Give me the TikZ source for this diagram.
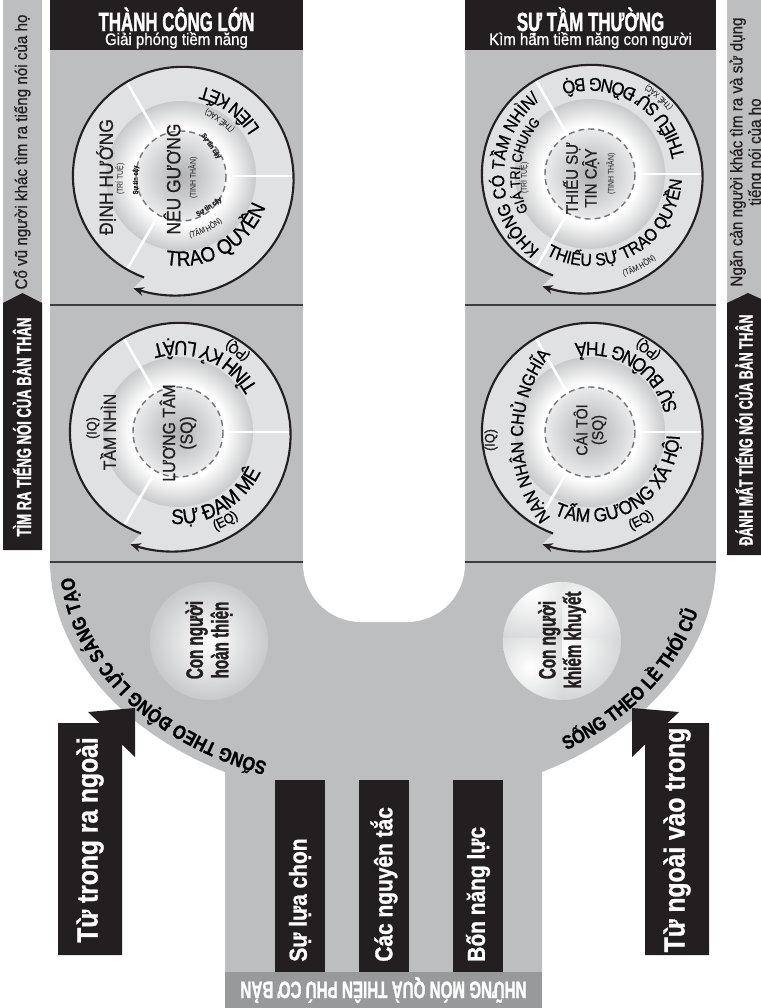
\documentclass[tikz,border=0pt]{standalone}
\usepackage{fontspec}
\setmainfont{Liberation Sans}
\newfontfamily\heavyfont[FakeStretch=0.64,FakeBold=1.2]{Liberation Sans}
\newfontfamily\narrowfont[FakeStretch=0.82]{Liberation Sans}
\newfontfamily\midfont[FakeStretch=0.9,FakeBold=0.7]{Liberation Sans}
\newfontfamily\boldnarrow[FakeStretch=0.85,FakeBold=1]{Liberation Sans}
\usetikzlibrary{arrows.meta,decorations.text,calc}
\definecolor{panelgray}{RGB}{189,190,192}
\definecolor{bandgray}{RGB}{152,153,155}
\definecolor{inkblack}{RGB}{35,31,32}
\definecolor{ringgray}{RGB}{224,225,227}
\definecolor{discgray}{RGB}{200,201,203}
\definecolor{coregray}{RGB}{176,177,179}
\definecolor{corelight}{RGB}{234,235,237}
\definecolor{rulegray}{RGB}{62,62,64}
\definecolor{dashgray}{RGB}{118,118,120}
\pgfdeclareradialshading{discshade}{\pgfpoint{0bp}{0bp}}{color(0bp)=(white); color(16bp)=(white); color(25bp)=(discgray); color(50bp)=(discgray)}
\pgfdeclareradialshading{coreshade}{\pgfpoint{0bp}{0bp}}{color(0bp)=(coregray); color(25bp)=(corelight); color(50bp)=(corelight)}
\newcommand{\ringsize}[1]{\midfont\fontsize{#1}{#1}\selectfont}
\newcommand{\smallringfont}{\midfont\fontsize{8}{8}\selectfont}
\newcommand{\tinyfont}{\narrowfont\fontsize{4.8}{5}\selectfont}
\newcommand{\wayfont}{\boldnarrow\bfseries\fontsize{11}{11}\selectfont}
% text along a circle: centre, radius, middle angle, direction (+1 tops out, -1 tops in), font, text
\newcommand{\arclabel}[6]{%
  \path[decorate,decoration={text along path,text align=center,text={|#5|#6}}]
    (#1) ++({#3-80*(#4)}:#2) arc[start angle={#3-80*(#4)},end angle={#3+80*(#4)},radius=#2];}
\tikzset{
  htitle/.style={text=white, font=\heavyfont\bfseries\fontsize{15}{15}\selectfont, anchor=base, inner sep=0pt},
  hsub/.style={text=white, font=\midfont\fontsize{9.5}{9.5}\selectfont, anchor=base, inner sep=0pt},
  barlbl/.style={text=white, font=\heavyfont\bfseries\fontsize{11.6}{11.6}\selectfont, rotate=90, inner sep=0pt},
  sidelbl/.style={text=inkblack, font=\midfont\fontsize{9.6}{10.5}\selectfont, rotate=90, inner sep=0pt, align=center},
  giftlbl/.style={text=white, font=\boldnarrow\bfseries\fontsize{14}{14}\selectfont, rotate=90, anchor=west, inner sep=0pt},
  bandlbl/.style={text=white, font=\heavyfont\bfseries\fontsize{13.5}{13.5}\selectfont, rotate=180, inner sep=0pt},
  waylbl/.style={text=white, font=\boldnarrow\bfseries\fontsize{16.5}{16.5}\selectfont, rotate=90, inner sep=0pt},
  personlbl/.style={text=inkblack, font=\heavyfont\bfseries\fontsize{13.5}{14.5}\selectfont, rotate=90, align=center, inner sep=0pt},
  corelbl/.style={text=inkblack, font=\ringsize{10}, rotate=90, align=center, inner sep=0pt},
  ringlbl/.style={text=inkblack, font=\ringsize{10}, rotate=90, align=center, inner sep=0pt},
  tinylbl/.style={text=inkblack, font=\tinyfont, inner sep=0pt},
  trustlbl/.style={text=inkblack, font=\boldnarrow\bfseries\fontsize{4}{4}\selectfont, inner sep=0pt},
  splitline/.style={white, line width=1.5pt},
  dashring/.style={dashgray, line width=0.8pt, dash pattern=on 3.4pt off 2.3pt},
  spiral/.style={inkblack, line width=1.2pt, -{Stealth[length=6pt,width=5pt]}},
  divider/.style={rulegray, line width=1.3pt},
}
\begin{document}
\begin{tikzpicture}[x=0.02cm,y=-0.02cm]
  \useasboundingbox (0,0) rectangle (761,1008);
  \clip (0,0) rectangle (761,1008);
  % side bars
  \fill[panelgray] (3,0) rectangle (42,303);
  \fill[inkblack] (3,550) -- (3,303) -- (22.5,293) -- (42,303) -- (42,550) -- cycle;
  \fill[panelgray] (727,0) rectangle (770,303);
  \fill[inkblack] (727,555) -- (727,303) -- (748,293) -- (770,303) -- (770,555) -- cycle;
  \node[sidelbl] (cheer) at (22,152) {Cổ vũ người khác tìm ra tiếng nói của họ};
  \node[barlbl] (findvoice) at (22,427) {TÌM RA TIẾNG NÓI CỦA BẢN THÂN};
  \node[sidelbl] (block) at (747,152) {Ngăn cản người khác tìm ra và sử dụng\\tiếng nói của họ};
  \node[barlbl, font=\heavyfont\bfseries\fontsize{11}{11}\selectfont] (losevoice) at (744,430) {ĐÁNH MẤT TIẾNG NÓI CỦA BẢN THÂN};
  % U shape
  \fill[panelgray] (50,50) -- (50,560) arc[start angle=180,end angle=118.3,x radius=333,y radius=241]
    -- (225,1008) -- (542,1008) -- (542,772) arc[start angle=61.5,end angle=0,x radius=333,y radius=241]
    -- (716,50) -- cycle;
  \fill[white, rounded corners=1.16cm] (303,-100) -- (303,622) -- (465,622) -- (465,-100) -- cycle;
  \fill[bandgray] (225,972) rectangle (542,1008);
  \node[bandlbl] (gifts) at (383.5,990) {NHỮNG MÓN QUÀ THIÊN PHÚ CƠ BẢN};
  % headers
  \fill[inkblack] (50,0) rectangle (303,50);
  \fill[inkblack] (465,0) rectangle (716,50);
  \node[htitle] (goodtitle) at (176.5,31) {THÀNH CÔNG LỚN};
  \node[hsub] (goodsub) at (176.5,45) {Giải phóng tiềm năng};
  \node[htitle] (poortitle) at (590.5,31) {SỰ TẦM THƯỜNG};
  \node[hsub] (poorsub) at (590.5,45) {Kìm hãm tiềm năng con người};
  \draw[divider] (50,305) -- (303,305);
  \draw[divider] (465,305) -- (716,305);
  \draw[divider] (50,562) -- (303,562);
  \draw[divider] (465,562) -- (716,562);
  % four wheels
  \foreach \cx/\cy in {181/176,178/432,590/174,590/432}{
    \fill[ringgray] plot[domain=110:473,samples=90,variable=\t]
      ({\cx+(108+14*((\t-110)/363)^3)*cos(\t)},{\cy+(108+14*((\t-110)/363)^3)*sin(\t)}) -- cycle;
    \shade[shading=discshade] (\cx,\cy) circle (75);
    \shade[shading=coreshade] (\cx,\cy) circle (45);
    \foreach \a/\l in {0/67,120/62,240/63}
      \draw[splitline] (\cx,\cy) ++(\a:45) -- ++(\a:\l);
    \draw[dashring] (\cx,\cy) circle (45);
    \draw[spiral] plot[domain=110:473,samples=90,variable=\t]
      ({\cx+(108+14*((\t-110)/363)^3)*cos(\t)},{\cy+(108+14*((\t-110)/363)^3)*sin(\t)});
  }
  % top left wheel
  \node[corelbl, font=\ringsize{11}] (lcore) at (172,179) {NÊU GƯƠNG};
  \node[tinylbl, rotate=90] (lcorenote) at (193,178) {(TINH THẦN)};
  \node[ringlbl, font=\ringsize{11}] (ldir) at (106,177) {ĐỊNH HƯỚNG};
  \node[tinylbl, rotate=90] (ldirnote) at (120,179) {(TRÍ TUỆ)};
  \arclabel{181,176}{92}{-54}{-1}{\ringsize{10.5}}{LIÊN KẾT}
  \arclabel{181,176}{71}{-55}{-1}{\tinyfont}{(THỂ XÁC)}
  \arclabel{181,176}{90}{60}{-1}{\ringsize{12}}{TRAO QUYỀN}
  \arclabel{181,176}{62}{65}{-1}{\tinyfont}{(TÂM HỒN)}
  \node[trustlbl, rotate=90] (trusta) at (136,180) {Sự tin cậy};
  \node[trustlbl, rotate=-55] (trustb) at (211,146) {Sự tin cậy};
  \node[trustlbl, rotate=34] (trustc) at (209,207) {Sự tin cậy};
  % top right wheel
  \node[corelbl, font=\ringsize{9.5}] (tcore) at (581,178) {THIẾU SỰ\\TIN CẬY};
  \node[tinylbl, rotate=90] (tcorenote) at (611,174) {(TINH THẦN)};
  \arclabel{600,175}{96}{180}{1}{\ringsize{10}}{KHÔNG CÓ TẦM NHÌN/}
  \arclabel{600,176}{80}{188}{1}{\ringsize{8}}{GIÁ TRỊ CHUNG}
  \node[tinylbl, rotate=90] (tvisnote) at (524,178) {(TRÍ TUỆ)};
  \arclabel{590,174}{96}{-59}{-1}{\ringsize{10.5}}{THIẾU SỰ ĐỒNG BỘ}
  \arclabel{590,174}{106}{-48}{-1}{\tinyfont}{(THỂ XÁC)}
  \arclabel{590,174}{92}{61}{-1}{\ringsize{10}}{THIẾU SỰ TRAO QUYỀN}
  \arclabel{590,174}{108}{62}{-1}{\tinyfont}{(TÂM HỒN)}
  % middle left wheel
  \node[corelbl, font=\ringsize{10}] (mcore) at (178,433) {LƯƠNG TÂM\\(SQ)};
  \node[ringlbl] (mvision) at (108,432) {TẦM NHÌN};
  \node[ringlbl, font=\smallringfont] (miq) at (93,428) {(IQ)};
  \arclabel{178,432}{91}{-68}{-1}{\ringsize{11.5}}{TỈNH KỶ LUẬT}
  \arclabel{178,432}{105}{-54}{-1}{\smallringfont}{(PQ)}
  \arclabel{178,432}{92}{60}{-1}{\ringsize{12}}{SỰ ĐAM MÊ}
  \arclabel{178,432}{105}{62}{-1}{\smallringfont}{(EQ)}
  % middle right wheel
  \node[corelbl, font=\ringsize{9}] (rcore) at (590,430) {CÁI TÔI\\(SQ)};
  \arclabel{658,436}{135}{180}{1}{\ringsize{10}}{NẠN NHÂN CHỦ NGHĨA}
  \node[ringlbl, font=\smallringfont] (riq) at (491,440) {(IQ)};
  \arclabel{590,432}{90}{-57}{-1}{\ringsize{11}}{SỰ BUÔNG THẢ}
  \arclabel{590,432}{105}{-55}{-1}{\smallringfont}{(PQ)}
  \arclabel{590,432}{90}{58}{-1}{\ringsize{11}}{TẤM GƯƠNG XÃ HỘI}
  \arclabel{590,432}{106}{60}{-1}{\smallringfont}{(EQ)}
  % two people
  \shade[inner color=white, outer color=discgray] (209,641) circle (59);
  \node[personlbl] (whole) at (209,640) {Con người\\hoàn thiện};
  \begin{scope}
    \clip (562,641) circle (59);
    \begin{scope}\clip (500,580) rectangle (562,638);
      \shade[inner color=white, outer color=discgray] (532,592) circle (70);\end{scope}
    \begin{scope}\clip (562,580) rectangle (625,638);
      \shade[inner color=white, outer color=discgray] (580,610) circle (66);\end{scope}
    \begin{scope}\clip (500,638) rectangle (562,702);
      \shade[inner color=white, outer color=discgray] (530,667) circle (60);\end{scope}
    \begin{scope}\clip (562,638) rectangle (625,702);
      \shade[inner color=white, outer color=discgray] (570,648) circle (66);\end{scope}
  \end{scope}
  \node[personlbl] (flawed) at (562,640) {Con người\\khiếm khuyết};
  % paths along the U
  \path[decorate,decoration={text along path,text align=center,text={|\wayfont|SỐNG THEO ĐỘNG LỰC SÁNG TẠO}}]
    (383,560) ++(105:310 and 218) arc[start angle=105,end angle=185,x radius=310,y radius=218];
  \path[decorate,decoration={text along path,text align=center,text={|\wayfont|SỐNG THEO LỀ THÓI CŨ}}]
    (383,560) ++(75:323 and 231) arc[start angle=75,end angle=-13,x radius=323,y radius=231];
  % gifts
  \fill[inkblack] (275,780) rectangle (325,972);
  \fill[inkblack] (359,780) rectangle (409,972);
  \fill[inkblack] (453,780) rectangle (503,972);
  \node[giftlbl] (choice) at (300,962) {Sự lựa chọn};
  \node[giftlbl] (rules) at (384,962) {Các nguyên tắc};
  \node[giftlbl] (powers) at (478,962) {Bốn năng lực};
  % arrows
  \fill[inkblack] (58,955) -- (58,723) -- (99.5,723) -- (88,712) -- (135,708) -- (135,757) -- (122,744.5) -- (122,955) -- cycle;
  \fill[inkblack] (709,955) -- (709,723) -- (667.5,723) -- (679,712) -- (632,708) -- (632,757) -- (645,744.5) -- (645,955) -- cycle;
  \node[waylbl] (inout) at (90,840) {Từ trong ra ngoài};
  \node[waylbl] (outin) at (677,840) {Từ ngoài vào trong};
\end{tikzpicture}
\end{document}
